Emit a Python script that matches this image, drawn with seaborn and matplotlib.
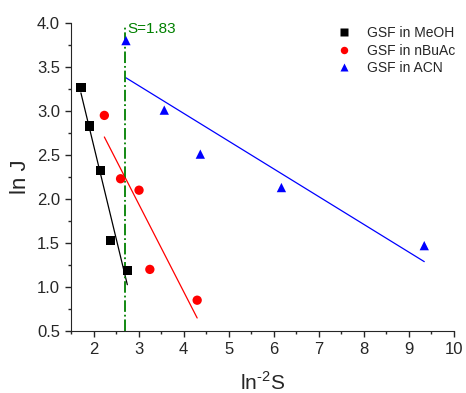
import numpy as np
import pandas as pd
import matplotlib
matplotlib.use("Agg")
import matplotlib.pyplot as plt
import seaborn as sns

# values
meoh_x = [1.72, 1.91, 2.15, 2.38, 2.75]
meoh_y = [3.27, 2.83, 2.32, 1.53, 1.19]
nbuac_x = [2.24, 2.60, 3.01, 3.25, 4.30]
nbuac_y = [2.95, 2.23, 2.10, 1.20, 0.85]
acn_x = [2.72, 3.57, 4.37, 6.17, 9.34]
acn_y = [3.80, 3.01, 2.51, 2.13, 1.47]
series_names = ["GSF in MeOH", "GSF in nBuAc", "GSF in ACN"]
series_colors = ["black", "red", "blue"]
series_markers = ["s", "o", "^"]
s_crit_x = 2.7
s_label = "S=1.83"

sns.set_style("ticks")
plt.rcParams["font.family"] = ["Liberation Sans", "DejaVu Sans"]
plt.rcParams["mathtext.fontset"] = "custom"
plt.rcParams["mathtext.rm"] = "Liberation Sans"

# Build one long table for seaborn
frames = []
for name, xs, ys in zip(series_names, [meoh_x, nbuac_x, acn_x], [meoh_y, nbuac_y, acn_y]):
    frames.append(pd.DataFrame({"x": xs, "y": ys, "series": name}))
df = pd.concat(frames, ignore_index=True)

fig = plt.figure(figsize=(4.66, 3.93), dpi=100)
ax = fig.add_axes([71 / 466, 62 / 393, 383 / 466, 308 / 393])

# Linear fits, drawn over each data range
for name, color in zip(series_names, series_colors):
    sns.regplot(data=df[df["series"] == name], x="x", y="y", ax=ax, scatter=False,
                ci=None, truncate=True, color=color, line_kws={"linewidth": 0.9})

sns.scatterplot(data=df, x="x", y="y", hue="series", style="series",
                palette=dict(zip(series_names, series_colors)),
                markers=dict(zip(series_names, series_markers)),
                s=45, edgecolor="none", ax=ax, zorder=3)

# critical S line
ax.axvline(s_crit_x, ymax=0.995, color="green", linestyle="-.", linewidth=1.3)
ax.text(s_crit_x + 0.05, 3.93, s_label, color="green", fontsize=11, va="center")

ax.set_xlim(1.5, 10)
ax.set_ylim(0.5, 4.0)
ax.set_xticks(np.arange(2, 11, 1))
ax.set_yticks(np.arange(0.5, 4.01, 0.5))
ax.set_yticklabels([f"{v:.1f}" for v in np.arange(0.5, 4.01, 0.5)])
ax.set_xticks(np.arange(1.5, 10.01, 0.5), minor=True)
ax.set_yticks(np.arange(0.5, 4.01, 0.25), minor=True)
ax.tick_params(which="major", direction="out", length=4.5, width=1, labelsize=12)
ax.tick_params(which="minor", direction="out", length=2.5, width=1)
sns.despine(ax=ax)

ax.set_xlabel(r"ln$^{\text{-2}}$S", fontsize=15, labelpad=10)
ax.set_ylabel("ln J", fontsize=16)

leg = ax.legend(loc="upper left", bbox_to_anchor=(0.645, 1.03), frameon=False,
                fontsize=10, handletextpad=0.6, labelspacing=0.25, markerscale=0.8)

fig.savefig("out.png", dpi=100)
